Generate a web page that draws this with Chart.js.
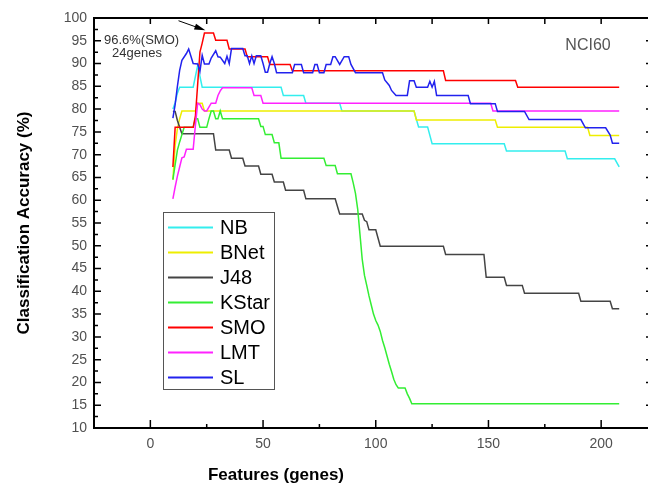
<!DOCTYPE html>
<html>
<head>
<meta charset="utf-8">
<script src="https://cdn.jsdelivr.net/npm/chart.js@4.4.1/dist/chart.umd.min.js"></script>
<style>
    html, body { margin: 0; padding: 0; background: #fff; overflow: hidden; }
    #wrap { width: 648px; height: 489px; overflow: hidden; position: relative; }
    canvas { display: block; }
</style>
</head>
<body>
<div id="wrap"><canvas id="accChart" width="660" height="489"></canvas></div>
<script>
// NCI60 - accuracy vs number of genes
var seriesNames = ['NB', 'BNet', 'J48', 'KStar', 'SMO', 'LMT', 'SL'];

var nbX = [10, 11, 12, 13, 19, 21, 23, 58, 59, 68, 69, 84, 85, 117, 118, 119, 123, 125, 157, 158, 184, 185, 206, 208];
var nbY = [80.0, 81.4, 83.5, 84.8, 84.8, 89.6, 84.8, 84.8, 83.0, 83.0, 81.3, 81.3, 79.6, 79.6, 77.8, 76.1, 76.1, 72.4, 72.4, 70.8, 70.8, 69.1, 69.1, 67.3];

var bnetX = [10, 11, 12, 13, 14, 20, 21, 23, 24, 117, 118, 153, 154, 194, 195, 208];
var bnetY = [64.5, 72.0, 75.7, 77.9, 79.6, 79.6, 81.3, 81.3, 79.6, 79.6, 77.6, 77.6, 76.0, 76.0, 74.2, 74.2];

var j48X = [10, 11, 12, 13, 14, 28, 29, 35, 36, 41, 42, 48, 49, 54, 55, 59, 60, 68, 69, 82, 84, 94, 95, 96, 97, 100, 102, 130, 131, 148, 149, 157, 158, 165, 166, 190, 191, 204, 205, 208];
var j48Y = [79.5, 79.5, 77.5, 76.0, 74.6, 74.6, 71.0, 71.0, 69.2, 69.2, 67.5, 67.5, 65.7, 65.7, 64.0, 64.0, 62.2, 62.2, 60.3, 60.3, 57.0, 57.0, 55.6, 55.3, 53.5, 53.5, 49.9, 49.9, 48.1, 48.1, 43.1, 43.1, 41.3, 41.3, 39.6, 39.6, 37.8, 37.8, 36.2, 36.2];

var kstarX = [10, 11, 12, 13, 14, 15, 19, 20, 21, 22, 25, 26, 27, 28, 29, 30, 31, 32, 48, 49, 50, 51, 54, 55, 57, 58, 77, 78, 82, 83, 89, 90, 91, 92, 93, 94, 95, 96, 97, 98, 99, 100, 101, 102, 103, 104, 105, 106, 107, 108, 109, 110, 113, 114, 115, 116, 208];
var kstarY = [64.5, 67.8, 71.0, 72.8, 74.4, 76.0, 76.0, 77.9, 77.9, 76.0, 76.0, 77.9, 79.6, 79.6, 77.9, 77.9, 79.6, 77.9, 77.9, 76.2, 76.2, 74.4, 74.4, 72.6, 72.6, 69.2, 69.2, 67.6, 67.6, 65.8, 65.8, 63.8, 61.5, 58.0, 52.5, 47.0, 43.5, 41.3, 39.0, 37.0, 35.0, 33.6, 32.6, 31.2, 29.2, 27.6, 25.8, 24.0, 22.4, 20.7, 19.5, 18.8, 18.8, 17.5, 16.5, 15.3, 15.3];

var smoX = [10, 11, 19, 20, 21, 22, 23, 24, 28, 29, 34, 35, 42, 43, 52, 53, 62, 63, 130, 131, 162, 163, 208];
var smoY = [67.3, 76.0, 76.0, 78.5, 85.5, 92.5, 94.5, 96.7, 96.7, 95.1, 95.1, 93.2, 93.2, 91.5, 91.5, 89.8, 89.8, 88.4, 88.4, 86.3, 86.3, 84.8, 84.8];

var lmtX = [10, 11, 12, 13, 14, 15, 16, 19, 20, 21, 22, 23, 24, 25, 27, 29, 30, 31, 32, 45, 46, 49, 50, 151, 152, 208];
var lmtY = [60.3, 62.9, 65.3, 67.3, 69.3, 69.5, 71.2, 71.2, 76.5, 81.3, 81.0, 80.0, 79.6, 79.6, 81.3, 81.3, 83.0, 84.0, 84.7, 84.7, 83.0, 83.0, 81.3, 81.3, 79.6, 79.6];

var slX = [10, 11, 12, 13, 14, 16, 17, 18, 19, 21, 22, 23, 24, 26, 27, 29, 30, 31, 33, 34, 35, 36, 41, 42, 43, 44, 45, 46, 47, 49, 50, 51, 52, 53, 54, 55, 56, 63, 64, 67, 68, 72, 73, 74, 75, 77, 78, 80, 81, 82, 84, 86, 88, 89, 91, 103, 104, 106, 107, 109, 114, 115, 117, 118, 123, 124, 125, 126, 127, 141, 142, 153, 154, 166, 168, 191, 193, 202, 204, 205, 208];
var slY = [78.0, 81.0, 85.0, 88.5, 90.7, 92.2, 93.2, 91.6, 90.0, 89.9, 88.3, 91.8, 89.9, 89.9, 91.2, 92.8, 91.5, 91.4, 90.0, 91.6, 90.0, 93.3, 93.3, 91.7, 91.7, 90.0, 91.7, 90.0, 91.7, 91.7, 90.0, 88.1, 88.1, 90.0, 91.5, 90.0, 88.0, 88.0, 89.8, 89.8, 88.0, 88.0, 89.8, 89.8, 88.0, 88.0, 89.8, 89.8, 91.5, 91.5, 89.8, 91.5, 91.5, 89.8, 88.0, 88.0, 86.4, 85.2, 84.1, 83.0, 83.0, 86.2, 86.2, 84.8, 84.8, 86.1, 84.8, 86.1, 83.0, 83.0, 81.2, 81.2, 79.5, 79.5, 77.7, 77.7, 75.9, 75.9, 74.3, 72.5, 72.5];

var xTicks = [0, 50, 100, 150, 200];
var yTicks = [10, 15, 20, 25, 30, 35, 40, 45, 50, 55, 60, 65, 70, 75, 80, 85, 90, 95, 100];

// peak note
var peakGenes = 24;
var peakAcc = 96.6;

var seriesColors = ['#33eeee', '#eeee00', '#444444', '#33ee33', '#ff0000', '#ff22ff', '#2222ee'];
var FONT = 'Arial, "Liberation Sans", sans-serif';

function toPoints(xs, ys) {
    var pts = [];
    for (var i = 0; i < xs.length; i++) {
        pts.push({ x: xs[i], y: ys[i] });
    }
    return pts;
}

var allX = [nbX, bnetX, j48X, kstarX, smoX, lmtX, slX];
var allY = [nbY, bnetY, j48Y, kstarY, smoY, lmtY, slY];

var datasets = [];
for (var i = 0; i < seriesNames.length; i++) {
    datasets.push({
        label: seriesNames[i],
        data: toPoints(allX[i], allY[i]),
        borderColor: seriesColors[i],
        backgroundColor: seriesColors[i],
        borderWidth: 1.5,
        pointRadius: 0,
        tension: 0,
        fill: false,
        order: seriesNames.length - i // later series on top
    });
}

//khung + vach chia
var framePlugin = {
    id: 'frame',
    afterDatasetsDraw: function (chart) {
        var ctx = chart.ctx, a = chart.chartArea;
        var sx = chart.scales.x, sy = chart.scales.y;
        ctx.save();
        ctx.strokeStyle = '#000';
        ctx.lineWidth = 1.5;
        ctx.beginPath();
        for (var v = sy.min; v <= sy.max + 0.01; v += 2.5) {
            var py = sy.getPixelForValue(v);
            var len = (v % 5 === 0) ? 7 : 4;
            ctx.moveTo(a.left, py); ctx.lineTo(a.left + len, py);
            ctx.moveTo(a.right, py); ctx.lineTo(a.right - len, py);
        }
        for (var u = -25; u <= sx.max; u += 25) {
            var px = sx.getPixelForValue(u);
            var l2 = (u % 50 === 0) ? 8 : 4;
            ctx.moveTo(px, a.bottom); ctx.lineTo(px, a.bottom - l2);
            ctx.moveTo(px, a.top); ctx.lineTo(px, a.top + 6);
        }
        ctx.stroke();
        ctx.lineWidth = 2;
        ctx.strokeRect(a.left, a.top, a.right - a.left, a.bottom - a.top);
        ctx.restore();
    }
};

//chu thich, tieu de truc, ghi chu
var decorPlugin = {
    id: 'decor',
    afterDraw: function (chart) {
        var ctx = chart.ctx, a = chart.chartArea;
        var sx = chart.scales.x, sy = chart.scales.y;
        ctx.save();

        // axis titles
        ctx.fillStyle = '#000';
        ctx.font = 'bold 17px ' + FONT;
        ctx.textAlign = 'center';
        ctx.textBaseline = 'alphabetic';
        ctx.fillText('Features (genes)', 276, 480);
        ctx.save();
        ctx.translate(28.5, (a.top + a.bottom) / 2);
        ctx.rotate(-Math.PI / 2);
        ctx.fillText('Classification Accuracy (%)', 0, 0);
        ctx.restore();

        // dataset tag
        ctx.fillStyle = '#555';
        ctx.font = '16px ' + FONT;
        ctx.fillText('NCI60', 588, 50);

        // peak note + arrow
        ctx.fillStyle = '#333';
        ctx.font = '13px ' + FONT;
        ctx.textAlign = 'left';
        ctx.fillText(peakAcc.toFixed(1) + '%(SMO)', 104, 43.5);
        ctx.fillText(peakGenes + 'genes', 112, 56.5);

        var tx = sx.getPixelForValue(peakGenes + 0.4), ty = sy.getPixelForValue(peakAcc + 0.7);
        var fx = sx.getPixelForValue(12.5), fy = sy.getPixelForValue(99.4);
        var ang = Math.atan2(ty - fy, tx - fx);
        ctx.strokeStyle = '#000';
        ctx.lineWidth = 1;
        ctx.beginPath();
        ctx.moveTo(fx, fy);
        ctx.lineTo(tx - 8 * Math.cos(ang), ty - 8 * Math.sin(ang));
        ctx.stroke();
        ctx.fillStyle = '#000';
        ctx.beginPath();
        ctx.moveTo(tx, ty);
        ctx.lineTo(tx - 11 * Math.cos(ang) + 3 * Math.sin(ang), ty - 11 * Math.sin(ang) - 3 * Math.cos(ang));
        ctx.lineTo(tx - 11 * Math.cos(ang) - 3 * Math.sin(ang), ty - 11 * Math.sin(ang) + 3 * Math.cos(ang));
        ctx.closePath();
        ctx.fill();

        // legend box
        var lx = 163, ly = 212, lw = 111, lh = 177;
        ctx.fillStyle = '#fff';
        ctx.fillRect(lx, ly, lw, lh);
        ctx.strokeStyle = '#555';
        ctx.lineWidth = 1;
        ctx.strokeRect(lx + 0.5, ly + 0.5, lw, lh);
        ctx.font = '20px ' + FONT;
        ctx.textAlign = 'left';
        chart.data.datasets.forEach(function (ds, k) {
            var yy = 227.5 + k * 25;
            ctx.strokeStyle = ds.borderColor;
            ctx.lineWidth = 2;
            ctx.beginPath();
            ctx.moveTo(168, yy);
            ctx.lineTo(213, yy);
            ctx.stroke();
            ctx.fillStyle = '#000';
            ctx.fillText(ds.label, 220, yy + 6);
        });
        ctx.restore();
    }
};

var ctx = document.getElementById('accChart');
var accChart = new Chart(ctx, {
    type: 'line',
    data: { datasets: datasets },
    options: {
        responsive: false,
        animation: false,
        devicePixelRatio: 1,
        layout: { padding: { left: 0, top: 18, right: 7, bottom: 0 } },
        plugins: {
            legend: { display: false },
            tooltip: { enabled: false }
        },
        scales: {
            x: {
                type: 'linear',
                min: -25,
                max: 223,
                grid: { display: false, drawTicks: false },
                border: { display: false },
                afterBuildTicks: function (s) { s.ticks = xTicks.map(function (v) { return { value: v }; }); },
                afterFit: function (s) { s.height = 61; },
                ticks: {
                    color: '#505050',
                    font: { family: FONT, size: 14 },
                    padding: 8,
                    maxRotation: 0,
                    autoSkip: false
                }
            },
            y: {
                min: 10,
                max: 100,
                grid: { display: false, drawTicks: false },
                border: { display: false },
                afterBuildTicks: function (s) { s.ticks = yTicks.map(function (v) { return { value: v }; }); },
                afterFit: function (s) { s.width = 94; },
                ticks: {
                    color: '#505050',
                    font: { family: FONT, size: 14 },
                    padding: 7,
                    autoSkip: false
                }
            }
        }
    },
    plugins: [framePlugin, decorPlugin]
});
</script>
</body>
</html>
